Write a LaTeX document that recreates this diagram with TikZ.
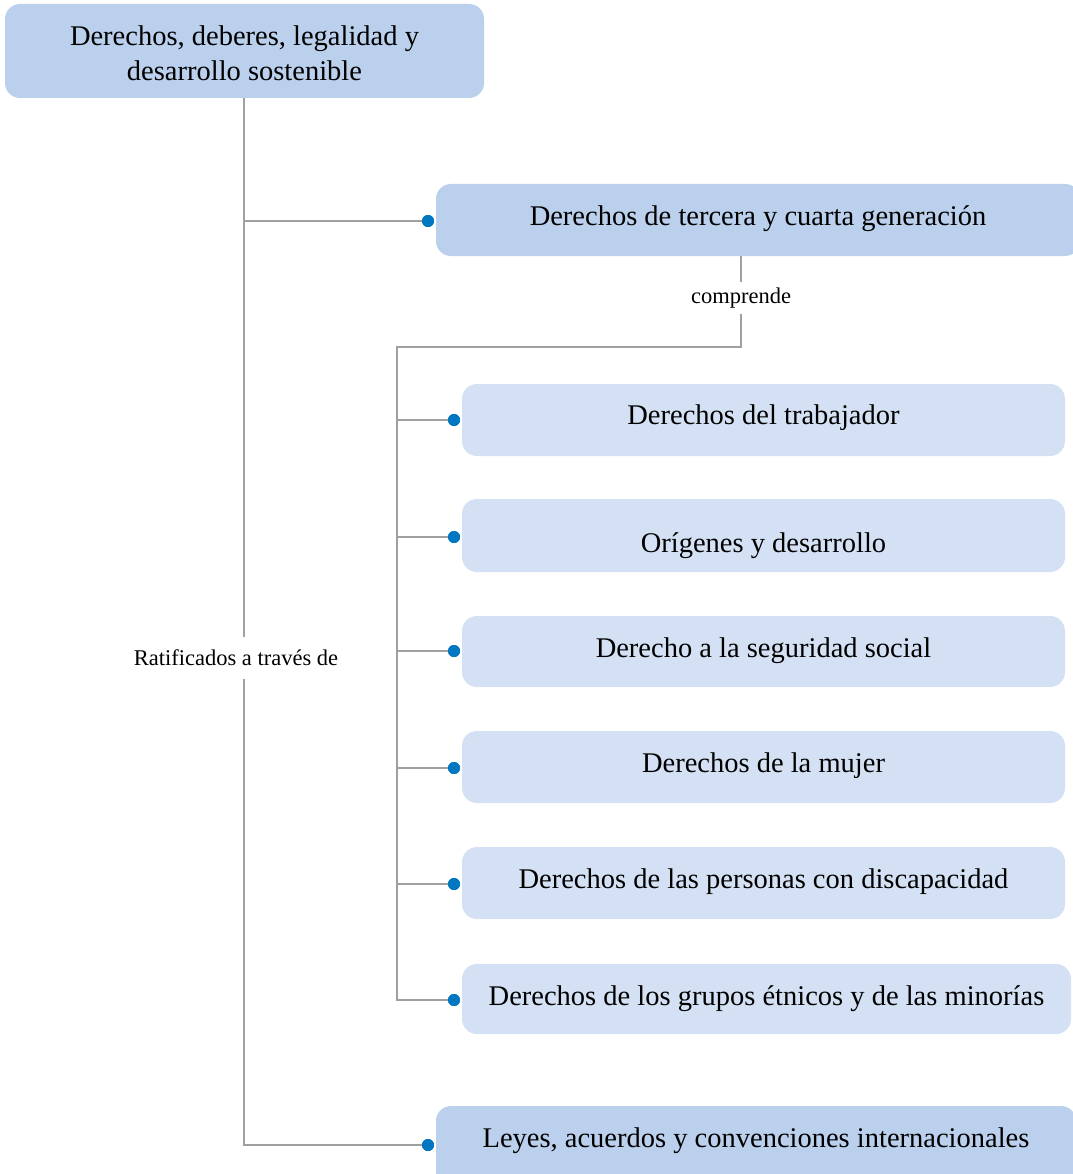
\documentclass[tikz,border=0pt]{standalone}
\usepackage{fontspec}
\setmainfont{Liberation Serif}
\definecolor{boxdark}{HTML}{BAD0EC}
\definecolor{boxlight}{HTML}{D4E1F4}
\definecolor{dotblue}{HTML}{0077C0}
\definecolor{linegray}{HTML}{A0A0A0}
\newcommand{\shifttext}[2]{\raisebox{#1}[\height][\depth]{#2}}
\begin{document}
\begin{tikzpicture}[x=1pt,y=-1pt,
  bigbox/.style={fill=boxdark, draw=none, rounded corners=15pt, align=center,
    font=\fontsize{28.5}{35}\selectfont, inner sep=0pt},
  subbox/.style={fill=boxlight, draw=none, rounded corners=15pt, align=center,
    font=\fontsize{28.5}{35}\selectfont, inner sep=0pt, minimum width=603pt, minimum height=72pt},
  conn/.style={draw=linegray, line width=1.3pt},
  dotnode/.style={circle, fill=dotblue, draw=none, minimum size=12pt, inner sep=0pt},
  lbl/.style={font=\fontsize{22.5}{26}\selectfont, inner xsep=2pt},
]
\useasboundingbox (0,0) rectangle (1072,1174);
\fill[white] (0,0) rectangle (1072,1174);

% boxes
\node[bigbox, minimum width=479pt, minimum height=94pt] (top) at (244.5,51)
  {\shifttext{-2pt}{Derechos, deberes, legalidad y}\\\shifttext{-2pt}{desarrollo sostenible}};
\node[bigbox, minimum width=644pt, minimum height=72pt] (gen) at (758,220)
  {\shifttext{1pt}{Derechos de tercera y cuarta generación}};
\node[subbox] (s1) at (763.5,420) {\shifttext{2pt}{Derechos del trabajador}};
\node[subbox, minimum height=73pt] (s2) at (763.5,535.5) {\shifttext{-10pt}{Orígenes y desarrollo}};
\node[subbox, minimum height=71pt] (s3) at (763.5,651.5) {\shifttext{1pt}{Derecho a la seguridad social}};
\node[subbox] (s4) at (763.5,767) {\shifttext{1pt}{Derechos de la mujer}};
\node[subbox] (s5) at (763.5,883) {\shifttext{1pt}{Derechos de las personas con discapacidad}};
\node[subbox, minimum width=609pt, minimum height=70pt] (s6) at (766.5,999) {Derechos de los grupos étnicos y de las minorías};
\node[bigbox, minimum width=640pt, minimum height=90pt] (leyes) at (756,1151)
  {\raisebox{26pt}{Leyes, acuerdos y convenciones internacionales}};

% labels
\node[lbl, inner ysep=13pt] (rat) at (236,658) {Ratificados a través de};
\node[lbl, inner ysep=6pt] (comp) at (741,298) {comprende};

% dots
\node[dotnode] (dgen) at (428,221) {};
\node[dotnode] (dleyes) at (428,1145) {};
\node[dotnode] (d1) at (454,420) {};
\node[dotnode] (d2) at (454,537) {};
\node[dotnode] (d3) at (454,651) {};
\node[dotnode] (d4) at (454,768) {};
\node[dotnode] (d5) at (454,884) {};
\node[dotnode] (d6) at (454,1000) {};

\coordinate (spine) at (244,0);
\coordinate (hub) at (397,347);

% main spine
\draw[conn] (top.south -| spine) -- (spine |- rat.north);
\draw[conn] (spine |- rat.south) -- (spine |- dleyes) -- (dleyes.center);
\draw[conn] (spine |- dgen) -- (dgen.center);
% comprende
\draw[conn] (comp.north |- gen.south) -- (comp.north);
\draw[conn] (comp.south) -- (comp.south |- hub) -- (hub) -- (hub |- d6) -- (d6.center);
\foreach \d in {d1,d2,d3,d4,d5} \draw[conn] (hub |- \d) -- (\d.center);
% dots on top
\foreach \d in {dgen,dleyes,d1,d2,d3,d4,d5,d6} \fill[dotblue] (\d) circle (6pt);
\end{tikzpicture}
\end{document}
